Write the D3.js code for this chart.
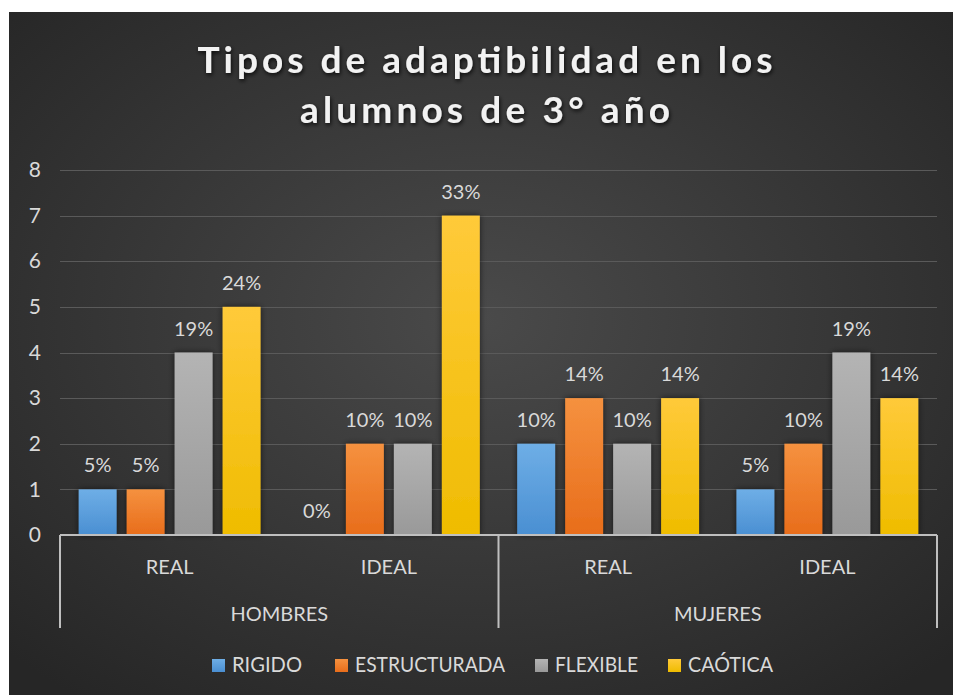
<!DOCTYPE html>
<meta charset="utf-8">
<style>
    body { margin: 0; background: #ffffff; }
    svg text { font-family: Lato, "Open Sans", sans-serif; }
    .grid line { stroke: #5a5a5a; stroke-width: 1px; shape-rendering: crispEdges; }
    .grid path { display: none; }
    .yaxis path, .yaxis line { display: none; }
    .yaxis text { fill: #d9d9d9; font-size: 21px; font-family: Lato, sans-serif; }
</style>
<svg width="953" height="695"></svg>
<script src="https://cdn.jsdelivr.net/npm/d3@7"></script>
<script>
    var groups = ["HOMBRES", "MUJERES"];
    var subs = ["REAL", "IDEAL"];
    var seriesNames = ["RIGIDO", "ESTRUCTURADA", "FLEXIBLE", "CAÓTICA"];

    // values per category: HOMBRES REAL, HOMBRES IDEAL, MUJERES REAL, MUJERES IDEAL
    var rigido       = [1, 0, 2, 1];
    var estructurada = [1, 2, 3, 2];
    var flexible     = [4, 2, 2, 4];
    var caotica      = [5, 7, 3, 3];

    var rigidoPct       = ["5%", "0%", "10%", "5%"];
    var estructuradaPct = ["5%", "10%", "14%", "10%"];
    var flexiblePct     = ["19%", "10%", "10%", "19%"];
    var caoticaPct      = ["24%", "33%", "14%", "14%"];

    var yTicks = [0, 1, 2, 3, 4, 5, 6, 7, 8];

    var colors = [
        {top: "#6eaee6", bot: "#4a8fd2"},
        {top: "#f5913f", bot: "#e86d1b"},
        {top: "#b4b4b4", bot: "#999999"},
        {top: "#ffca3a", bot: "#efbc00"}
    ];

    var svg = d3.select("svg");
    var defs = svg.append("defs");

    var bg = defs.append("radialGradient").attr("id", "bg")
        .attr("cx", "50%").attr("cy", "45%").attr("r", "70%");
    bg.append("stop").attr("offset", "0%").attr("stop-color", "#4a4a4a");
    bg.append("stop").attr("offset", "100%").attr("stop-color", "#262626");

    colors.forEach(function(c, i) {
        var lg = defs.append("linearGradient").attr("id", "bar" + i)
            .attr("x1", 0).attr("y1", 0).attr("x2", 0).attr("y2", 1);
        lg.append("stop").attr("offset", "0%").attr("stop-color", c.top);
        lg.append("stop").attr("offset", "100%").attr("stop-color", c.bot);
    });

    var sh = defs.append("filter").attr("id", "shadow")
        .attr("x", "-30%").attr("y", "-30%").attr("width", "160%").attr("height", "160%");
    sh.append("feDropShadow").attr("dx", 0).attr("dy", 0).attr("stdDeviation", 3)
        .attr("flood-color", "#000").attr("flood-opacity", 0.6);

    var tsh = defs.append("filter").attr("id", "tshadow")
        .attr("x", "-10%").attr("y", "-30%").attr("width", "120%").attr("height", "160%");
    tsh.append("feDropShadow").attr("dx", 1).attr("dy", 2).attr("stdDeviation", 2)
        .attr("flood-color", "#000").attr("flood-opacity", 0.8);

    svg.append("rect").attr("x", 9).attr("y", 12).attr("width", 944).attr("height", 683)
        .attr("fill", "url(#bg)");

    // title
    var title = svg.append("g").attr("filter", "url(#tshadow)");
    title.append("text").attr("x", 485).attr("y", 73)
        .attr("text-anchor", "middle").attr("fill", "#f2f2f2")
        .style("font-size", "37px").style("font-weight", "bold")
        .attr("textLength", 575).attr("lengthAdjust", "spacing")
        .text("Tipos de adaptibilidad en los");
    title.append("text").attr("x", 485).attr("y", 123)
        .attr("text-anchor", "middle").attr("fill", "#f2f2f2")
        .style("font-size", "37px").style("font-weight", "bold")
        .attr("textLength", 370).attr("lengthAdjust", "spacing")
        .text("alumnos de 3° año");

    var plotLeft = 60, plotRight = 937, plotTop = 170, plotBottom = 535, catBottom = 628;

    var cats = [];
    groups.forEach(function(g) { subs.forEach(function(s) { cats.push(g + "|" + s); }); });

    var x0 = d3.scaleBand().domain(cats).range([plotLeft, plotRight]);
    var xg = d3.scaleBand().domain(groups).range([plotLeft, plotRight]);
    var x1 = d3.scaleBand().domain(seriesNames).range([0, x0.bandwidth()])
        .paddingInner(0.21).paddingOuter(0.39);
    var y = d3.scaleLinear().domain([0, 8]).range([plotBottom, plotTop]);

    svg.append("g").attr("class", "grid")
        .attr("transform", "translate(" + plotLeft + ",0)")
        .call(d3.axisLeft(y).tickValues(yTicks.slice(1)).tickSize(-(plotRight - plotLeft)).tickFormat(""));

    svg.append("g").attr("class", "yaxis")
        .attr("transform", "translate(48,0)")
        .call(d3.axisLeft(y).tickValues(yTicks).tickSize(0).tickPadding(7));

    var values = [rigido, estructurada, flexible, caotica];
    var pcts = [rigidoPct, estructuradaPct, flexiblePct, caoticaPct];
    var bars = [];
    values.forEach(function(vals, si) {
        vals.forEach(function(v, ci) {
            bars.push({cat: cats[ci], series: seriesNames[si], si: si, value: v, label: pcts[si][ci]});
        });
    });

    svg.append("g").selectAll("rect")
        .data(bars.filter(function(d) { return d.value > 0; }))
        .enter().append("rect")
        .attr("x", function(d) { return x0(d.cat) + x1(d.series); })
        .attr("y", function(d) { return y(d.value); })
        .attr("width", x1.bandwidth())
        .attr("height", function(d) { return y(0) - y(d.value); })
        .attr("fill", function(d) { return "url(#bar" + d.si + ")"; })
        .attr("filter", "url(#shadow)");

    svg.append("g").selectAll("text")
        .data(bars)
        .enter().append("text")
        .attr("x", function(d) { return x0(d.cat) + x1(d.series) + x1.bandwidth() / 2; })
        .attr("y", function(d) { return y(d.value) - 17; })
        .attr("text-anchor", "middle")
        .attr("fill", "#d9d9d9")
        .style("font-size", "20px")
        .text(function(d) { return d.label; });

    // category axis
    var ax = svg.append("g").attr("stroke", "#bfbfbf").attr("stroke-width", 2);
    ax.append("line").attr("x1", plotLeft).attr("x2", plotRight).attr("y1", plotBottom).attr("y2", plotBottom);
    [plotLeft, xg("MUJERES"), plotRight].forEach(function(px) {
        ax.append("line").attr("x1", px).attr("x2", px).attr("y1", plotBottom).attr("y2", catBottom);
    });

    svg.append("g").selectAll("text")
        .data(cats).enter().append("text")
        .attr("x", function(d) { return x0(d) + x0.bandwidth() / 2; })
        .attr("y", 574)
        .attr("text-anchor", "middle").attr("fill", "#d9d9d9")
        .style("font-size", "20px")
        .text(function(d) { return d.split("|")[1]; });

    svg.append("g").selectAll("text")
        .data(groups).enter().append("text")
        .attr("x", function(d) { return xg(d) + xg.bandwidth() / 2; })
        .attr("y", 621)
        .attr("text-anchor", "middle").attr("fill", "#d9d9d9")
        .style("font-size", "20px")
        .text(function(d) { return d; });

    // legend
    var legX = [212, 335, 535, 668];
    var legW = [70, 150, 83, 85];
    var leg = svg.append("g").selectAll("g")
        .data(seriesNames).enter().append("g")
        .attr("transform", function(d, i) { return "translate(" + legX[i] + ",659)"; });
    leg.append("rect").attr("width", 13).attr("height", 13)
        .attr("fill", function(d, i) { return "url(#bar" + i + ")"; });
    leg.append("text").attr("x", 20).attr("y", 13)
        .attr("fill", "#d9d9d9").style("font-size", "21px")
        .attr("textLength", function(d, i) { return legW[i]; })
        .attr("lengthAdjust", "spacingAndGlyphs")
        .text(function(d) { return d; });
</script>
